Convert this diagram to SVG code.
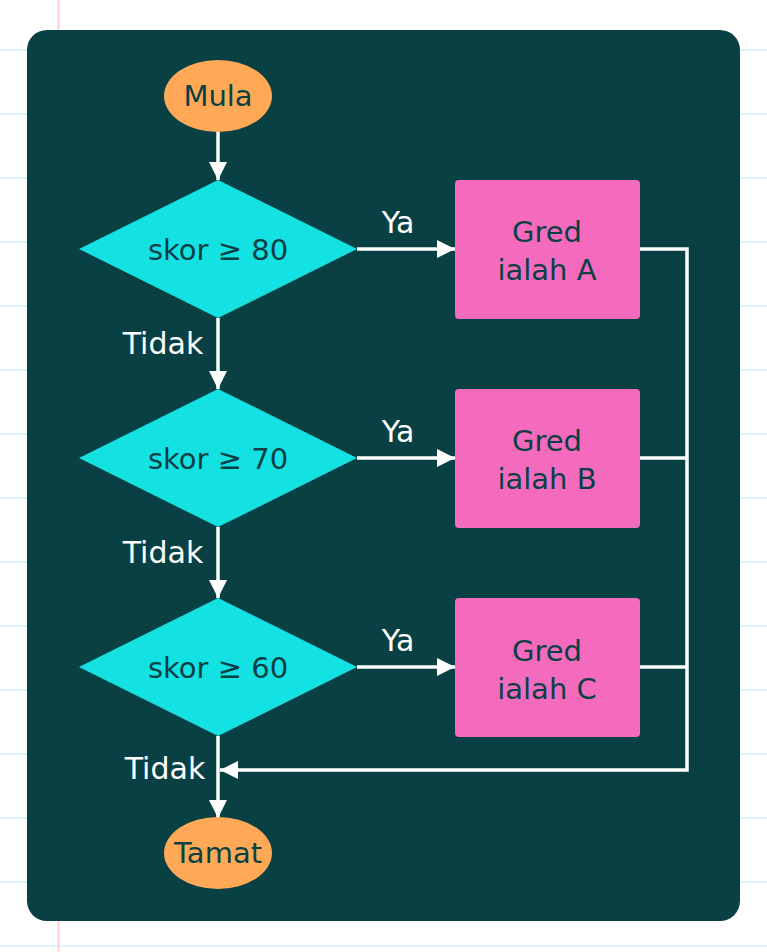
<svg xmlns="http://www.w3.org/2000/svg" width="767" height="952" viewBox="0 0 767 952">
<style>
.grid{stroke:#dff3fb;stroke-width:2}
.t{font-family:"DejaVu Sans",sans-serif;font-size:29px;fill:#0a4044;text-anchor:middle}
.lbl{font-family:"DejaVu Sans",sans-serif;font-size:30px;fill:#ffffff;text-anchor:middle}
.term{fill:#ffa957}
.dec{fill:#14e2e2}
.box{fill:#f46bbd}
.con{stroke:#ffffff;stroke-width:3.5;fill:none}
</style>
<defs>
<marker id="ah" viewBox="0 0 18 18" refX="18" refY="9" markerWidth="18" markerHeight="18" markerUnits="userSpaceOnUse" orient="auto">
<path d="M0,0 L18,9 L0,18 Z" fill="#ffffff"/>
</marker>
</defs>
<rect x="0" y="0" width="767" height="952" fill="#ffffff"/>
<g id="paper">
<line class="grid" x1="0" y1="50" x2="767" y2="50"/>
<line class="grid" x1="0" y1="114" x2="767" y2="114"/>
<line class="grid" x1="0" y1="178" x2="767" y2="178"/>
<line class="grid" x1="0" y1="242" x2="767" y2="242"/>
<line class="grid" x1="0" y1="306" x2="767" y2="306"/>
<line class="grid" x1="0" y1="370" x2="767" y2="370"/>
<line class="grid" x1="0" y1="434" x2="767" y2="434"/>
<line class="grid" x1="0" y1="498" x2="767" y2="498"/>
<line class="grid" x1="0" y1="562" x2="767" y2="562"/>
<line class="grid" x1="0" y1="626" x2="767" y2="626"/>
<line class="grid" x1="0" y1="690" x2="767" y2="690"/>
<line class="grid" x1="0" y1="754" x2="767" y2="754"/>
<line class="grid" x1="0" y1="818" x2="767" y2="818"/>
<line class="grid" x1="0" y1="882" x2="767" y2="882"/>
<line class="grid" x1="0" y1="946" x2="767" y2="946"/>
<line x1="58.5" y1="0" x2="58.5" y2="952" stroke="#ffd0d0" stroke-width="2"/>
</g>
<rect id="panel" x="27" y="30" width="713" height="891" rx="20" fill="#094044"/>
<g id="connectors">
<line class="con" x1="218" y1="131" x2="218" y2="180" marker-end="url(#ah)"/>
<line class="con" x1="357" y1="249" x2="455" y2="249" marker-end="url(#ah)"/>
<line class="con" x1="218" y1="318" x2="218" y2="389" marker-end="url(#ah)"/>
<line class="con" x1="357" y1="458" x2="455" y2="458" marker-end="url(#ah)"/>
<line class="con" x1="218" y1="527" x2="218" y2="598" marker-end="url(#ah)"/>
<line class="con" x1="357" y1="667" x2="455" y2="667" marker-end="url(#ah)"/>
<line class="con" x1="218" y1="736" x2="218" y2="818" marker-end="url(#ah)"/>
<polyline class="con" points="640,249 687,249 687,770 220,770" marker-end="url(#ah)"/>
<line class="con" x1="640" y1="458" x2="687" y2="458"/>
<line class="con" x1="640" y1="667" x2="687" y2="667"/>
<text class="lbl" x="398" y="233">Ya</text>
<text class="lbl" x="398" y="442">Ya</text>
<text class="lbl" x="398" y="651">Ya</text>
<text class="lbl" x="163" y="354">Tidak</text>
<text class="lbl" x="163" y="563">Tidak</text>
<text class="lbl" x="165" y="779">Tidak</text>
</g>
<g id="mula">
<ellipse class="term" cx="218" cy="96" rx="54" ry="36"/>
<text class="t" x="218" y="106">Mula</text>
</g>
<g id="d80">
<polygon class="dec" points="218,180 357,249 218,318 79,249"/>
<text class="t" x="218" y="260">skor ≥ 80</text>
</g>
<g id="d70">
<polygon class="dec" points="218,389 357,458 218,527 79,458"/>
<text class="t" x="218" y="469">skor ≥ 70</text>
</g>
<g id="d60">
<polygon class="dec" points="218,598 357,667 218,736 79,667"/>
<text class="t" x="218" y="678">skor ≥ 60</text>
</g>
<g id="gA">
<rect class="box" x="455" y="180" width="185" height="139" rx="4"/>
<text class="t" x="547" y="242">Gred</text>
<text class="t" x="547" y="280">ialah A</text>
</g>
<g id="gB">
<rect class="box" x="455" y="389" width="185" height="139" rx="4"/>
<text class="t" x="547" y="451">Gred</text>
<text class="t" x="547" y="489">ialah B</text>
</g>
<g id="gC">
<rect class="box" x="455" y="598" width="185" height="139" rx="4"/>
<text class="t" x="547" y="661">Gred</text>
<text class="t" x="547" y="699">ialah C</text>
</g>
<g id="tamat">
<ellipse class="term" cx="218" cy="853" rx="54" ry="36"/>
<text class="t" x="218" y="863">Tamat</text>
</g>
</svg>
